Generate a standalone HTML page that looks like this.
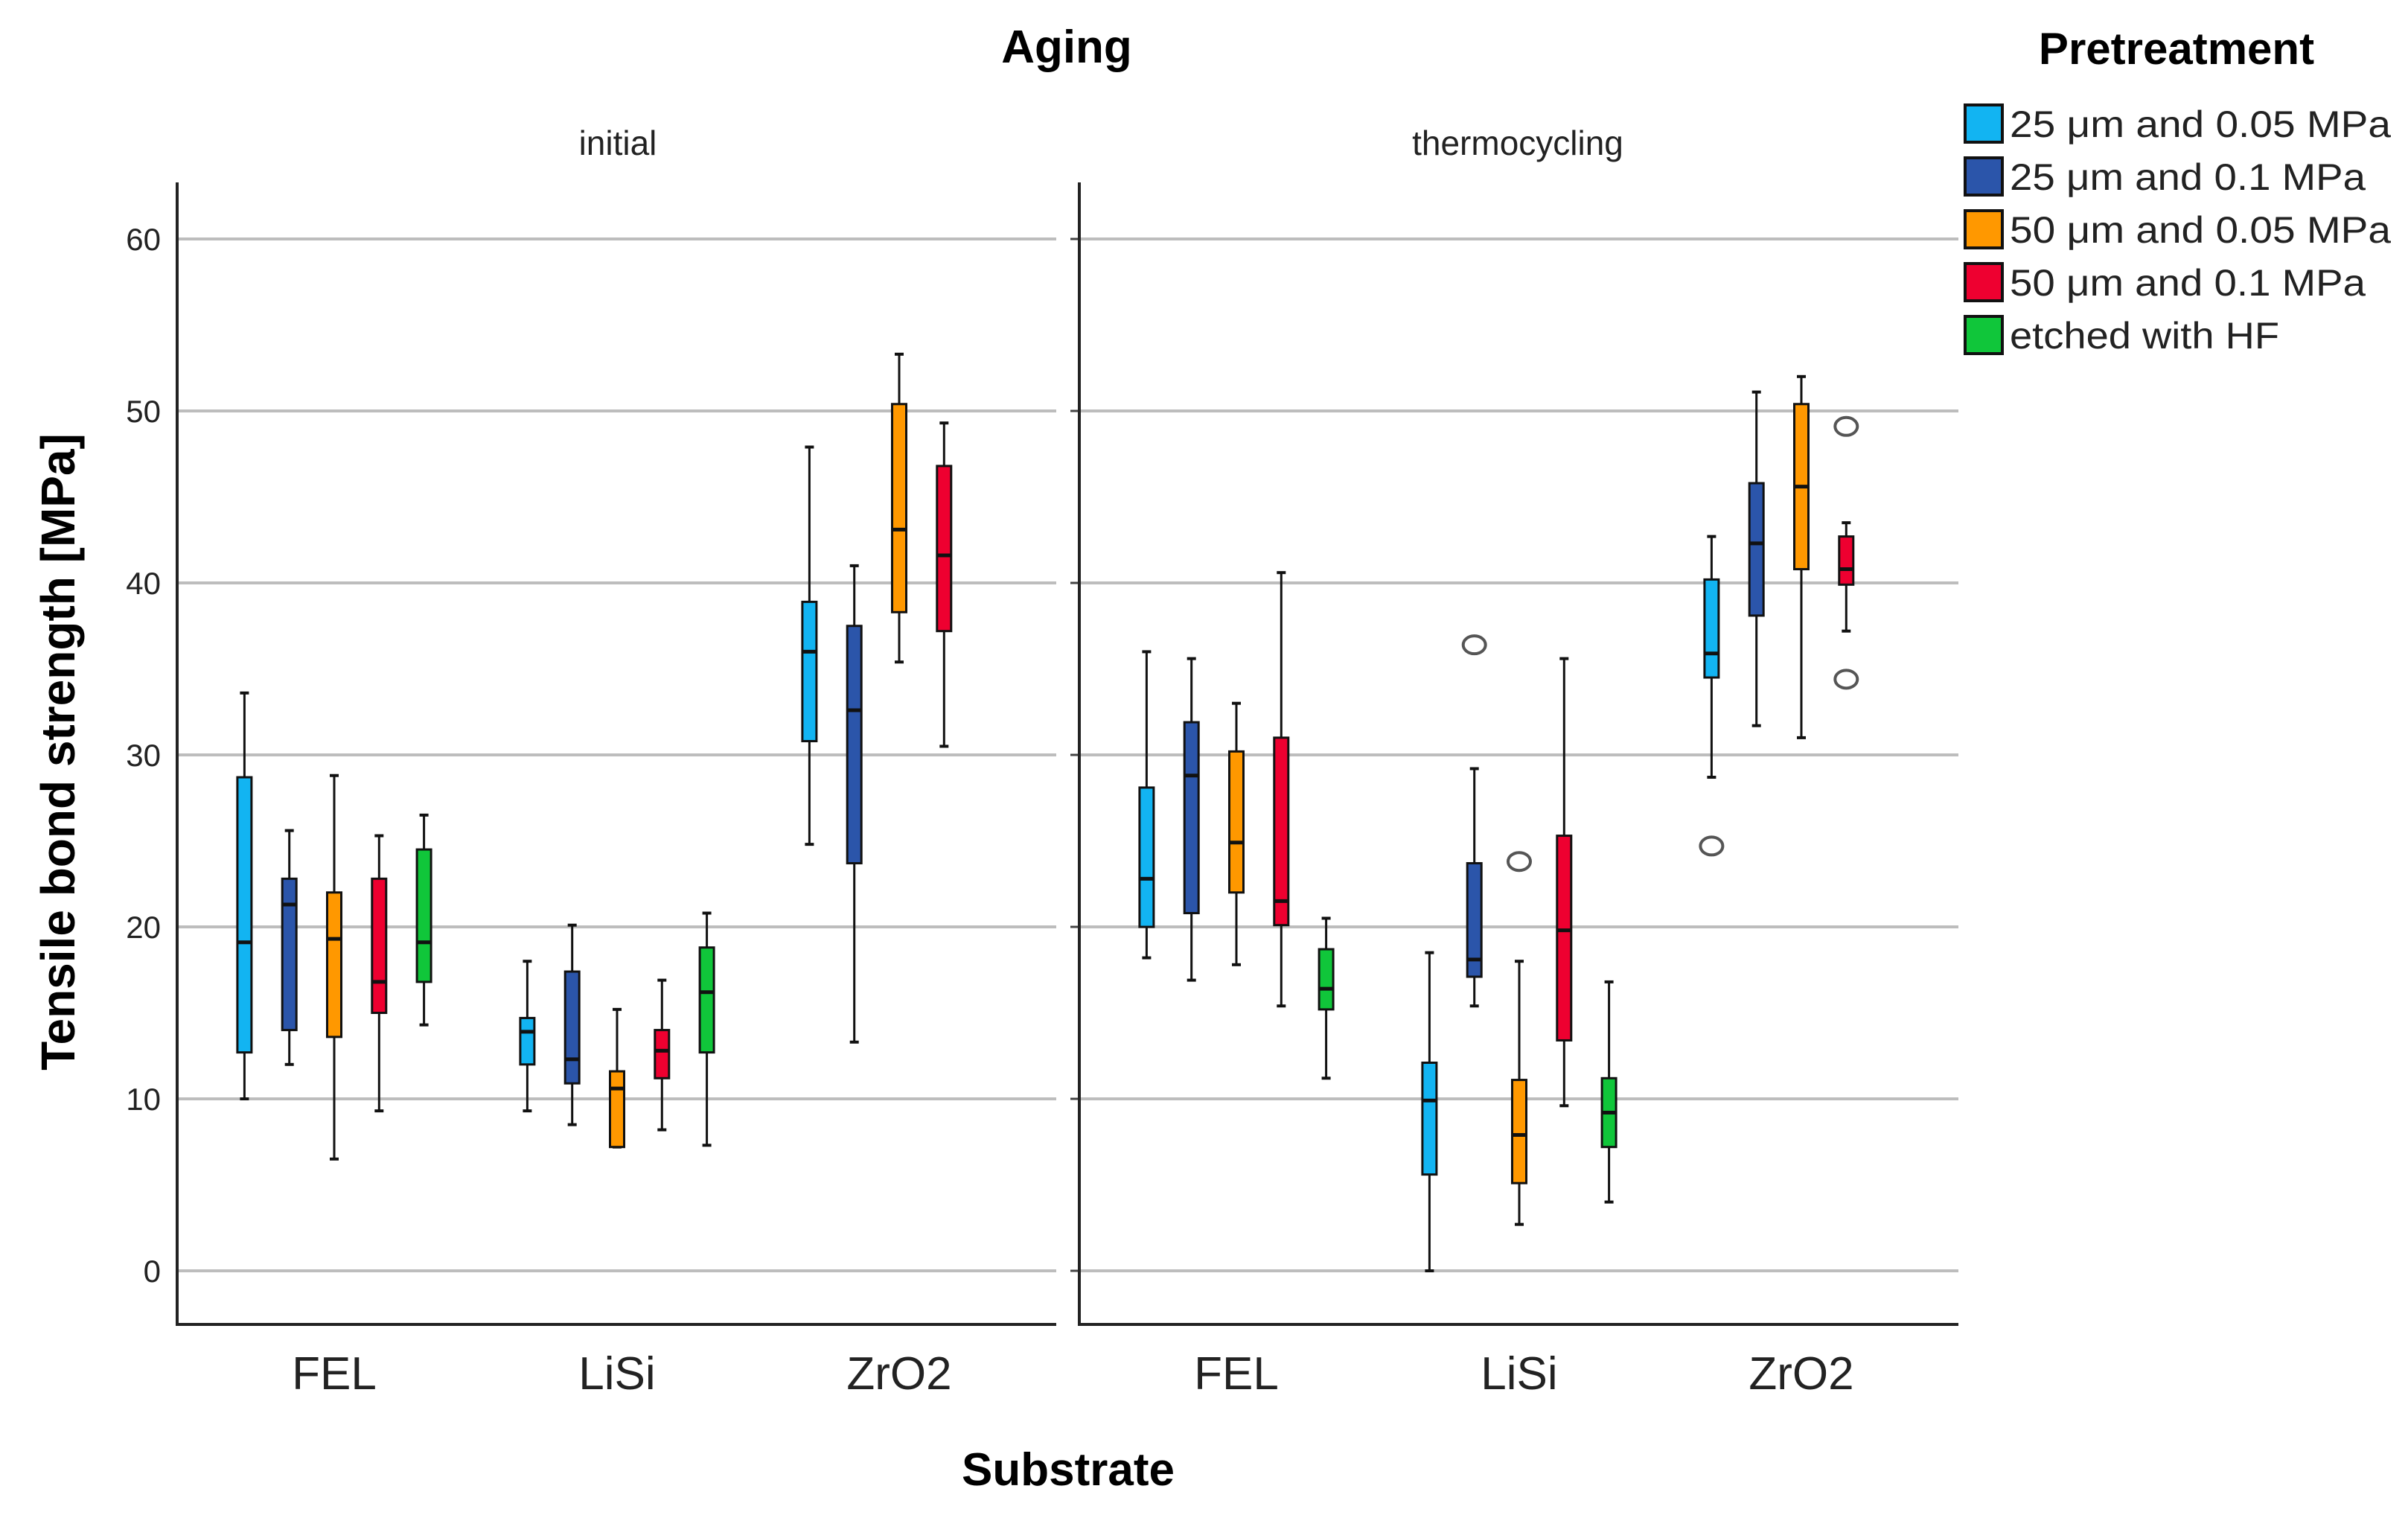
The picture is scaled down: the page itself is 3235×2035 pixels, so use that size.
<!DOCTYPE html>
<html><head><meta charset="utf-8"><style>
html,body{margin:0;padding:0;background:#fff}
svg{display:block;font-family:"Liberation Sans",Arial,sans-serif}
</style></head><body>
<svg id="chart" width="3235" height="2035" viewBox="0 0 3235 2035">
<rect x="0" y="0" width="3235" height="2035" fill="#fff"/>
<text x="1433" y="84" font-size="62" font-weight="bold" text-anchor="middle">Aging</text>
<text x="830" y="208" font-size="46" text-anchor="middle" fill="#222">initial</text>
<text x="2039" y="208" font-size="46" text-anchor="middle" fill="#222">thermocycling</text>
<text transform="translate(100,1010) rotate(-90)" font-size="64" font-weight="bold" text-anchor="middle">Tensile bond strength [MPa]</text>
<text x="1435" y="1995" font-size="62" font-weight="bold" text-anchor="middle">Substrate</text>
<g id="legend">
<text x="2924" y="86" font-size="60" font-weight="bold" text-anchor="middle">Pretreatment</text>
</g>
<g id="plot"></g>
</svg>
<script>
const categories = ["FEL","LiSi","ZrO2"];
const panels = ["initial","thermocycling"];
const seriesNames = ["25 μm and 0.05 MPa","25 μm and 0.1 MPa","50 μm and 0.05 MPa","50 μm and 0.1 MPa","etched with HF"];
const legendTextLen = [512,478,512,478,362];
const colors = ["#12b4f2","#2b55aa","#ff9800","#ee0030","#10c63a"];
const yTicks = [0,10,20,30,40,50,60];
// [low, q1, median, q3, high] per panel, category, series
const initialFEL = [[10.0,12.7,19.1,28.7,33.6],[12.0,14.0,21.3,22.8,25.6],[6.5,13.6,19.3,22.0,28.8],[9.3,15.0,16.8,22.8,25.3],[14.3,16.8,19.1,24.5,26.5]];
const initialLiSi = [[9.3,12.0,13.9,14.7,18.0],[8.5,10.9,12.3,17.4,20.1],[7.2,7.2,10.6,11.6,15.2],[8.2,11.2,12.8,14.0,16.9],[7.3,12.7,16.2,18.8,20.8]];
const initialZrO2 = [[24.8,30.8,36.0,38.9,47.9],[13.3,23.7,32.6,37.5,41.0],[35.4,38.3,43.1,50.4,53.3],[30.5,37.2,41.6,46.8,49.3],null];
const thermoFEL = [[18.2,20.0,22.8,28.1,36.0],[16.9,20.8,28.8,31.9,35.6],[17.8,22.0,24.9,30.2,33.0],[15.4,20.1,21.5,31.0,40.6],[11.2,15.2,16.4,18.7,20.5]];
const thermoLiSi = [[0.0,5.6,9.9,12.1,18.5],[15.4,17.1,18.1,23.7,29.2],[2.7,5.1,7.9,11.1,18.0],[9.6,13.4,19.8,25.3,35.6],[4.0,7.2,9.2,11.2,16.8]];
const thermoZrO2 = [[28.7,34.5,35.9,40.2,42.7],[31.7,38.1,42.3,45.8,51.1],[31.0,40.8,45.6,50.4,52.0],[37.2,39.9,40.8,42.7,43.5],null];
// outliers
const outlierPanel = [1,1,1,1,1];
const outlierCat = [1,1,2,2,2];
const outlierSeries = [1,2,0,3,3];
const outlierValue = [36.4,23.8,24.7,49.1,34.4];

const data = [[initialFEL,initialLiSi,initialZrO2],[thermoFEL,thermoLiSi,thermoZrO2]];
const NS="http://www.w3.org/2000/svg";
const plot=document.getElementById('plot');
const panelLeft=[238,1450], panelW=1181, plotTop=245, plotBottom=1779;
const y0=1707, y60=321;
function yScale(v){return y0+(y60-y0)*v/60;}
const catOffset=[211,591,970], slot=60.3;
function xScale(p,c,s){return panelLeft[p]+catOffset[c]+(s-2)*slot;}
function mk(tag,attrs,parent){const e=document.createElementNS(NS,tag);for(const k in attrs)e.setAttribute(k,attrs[k]);(parent||plot).appendChild(e);return e;}

panels.forEach((pn,p)=>{
  const g=mk('g',{});
  
  
  yTicks.forEach(t=>{
    const ln=mk('line',{x1:panelLeft[p],x2:panelLeft[p]+panelW,y1:yScale(t),y2:yScale(t),stroke:'#bdbdbd','stroke-width':4},g);
    
    
    if(p===0){
      const tx=mk('text',{x:216,y:yScale(t)+15,'font-size':42,'text-anchor':'end',fill:'#222'},g);
      tx.textContent=t;
      
      
    } else {
      const tk=mk('line',{x1:panelLeft[p]-12,x2:panelLeft[p],y1:yScale(t),y2:yScale(t),stroke:'#444','stroke-width':3},g);
      
      
    }
  });
  const ax=mk('path',{d:`M${panelLeft[p]},${plotTop}V${plotBottom}H${panelLeft[p]+panelW}`,fill:'none',stroke:'#222','stroke-width':4},g);
  
  
  categories.forEach((c,ci)=>{
    const tx=mk('text',{x:xScale(p,ci,2),y:1866,'font-size':62,'text-anchor':'middle',fill:'#222'},g);
    tx.textContent=c;
    
    
    data[p][ci].forEach((b,s)=>{
      if(!b)return;
      const x=xScale(p,ci,s), bw=19, cw=12;
      const bg=mk('g',{},g);
      
      
      mk('line',{x1:x,x2:x,y1:yScale(b[0]),y2:yScale(b[4]),stroke:'#111','stroke-width':3},bg);
      mk('line',{x1:x-cw/2,x2:x+cw/2,y1:yScale(b[0]),y2:yScale(b[0]),stroke:'#111','stroke-width':4},bg);
      mk('line',{x1:x-cw/2,x2:x+cw/2,y1:yScale(b[4]),y2:yScale(b[4]),stroke:'#111','stroke-width':4},bg);
      mk('rect',{x:x-bw/2,y:yScale(b[3]),width:bw,height:Math.max(2,yScale(b[1])-yScale(b[3])),fill:colors[s],stroke:'#111','stroke-width':3},bg);
      mk('line',{x1:x-bw/2,x2:x+bw/2,y1:yScale(b[2]),y2:yScale(b[2]),stroke:'#111','stroke-width':5},bg);
    });
  });
});
outlierValue.forEach((v,i)=>{
  const e=mk('ellipse',{cx:xScale(outlierPanel[i],outlierCat[i],outlierSeries[i]),cy:yScale(v),rx:15,ry:12,fill:'none',stroke:'#555','stroke-width':4});
  
  
});
const lg=document.getElementById('legend');
seriesNames.forEach((n,i)=>{
  const cy=166+i*71;
  const r=mk('rect',{x:2640,y:cy-25,width:50,height:50,fill:colors[i],stroke:'#111','stroke-width':4},lg);
  
  
  const t=mk('text',{x:2700,y:cy+18,'font-size':50,fill:'#222',textLength:legendTextLen[i],lengthAdjust:'spacingAndGlyphs'},lg);
  t.textContent=n;
  
  
});
</script>
</body></html>
